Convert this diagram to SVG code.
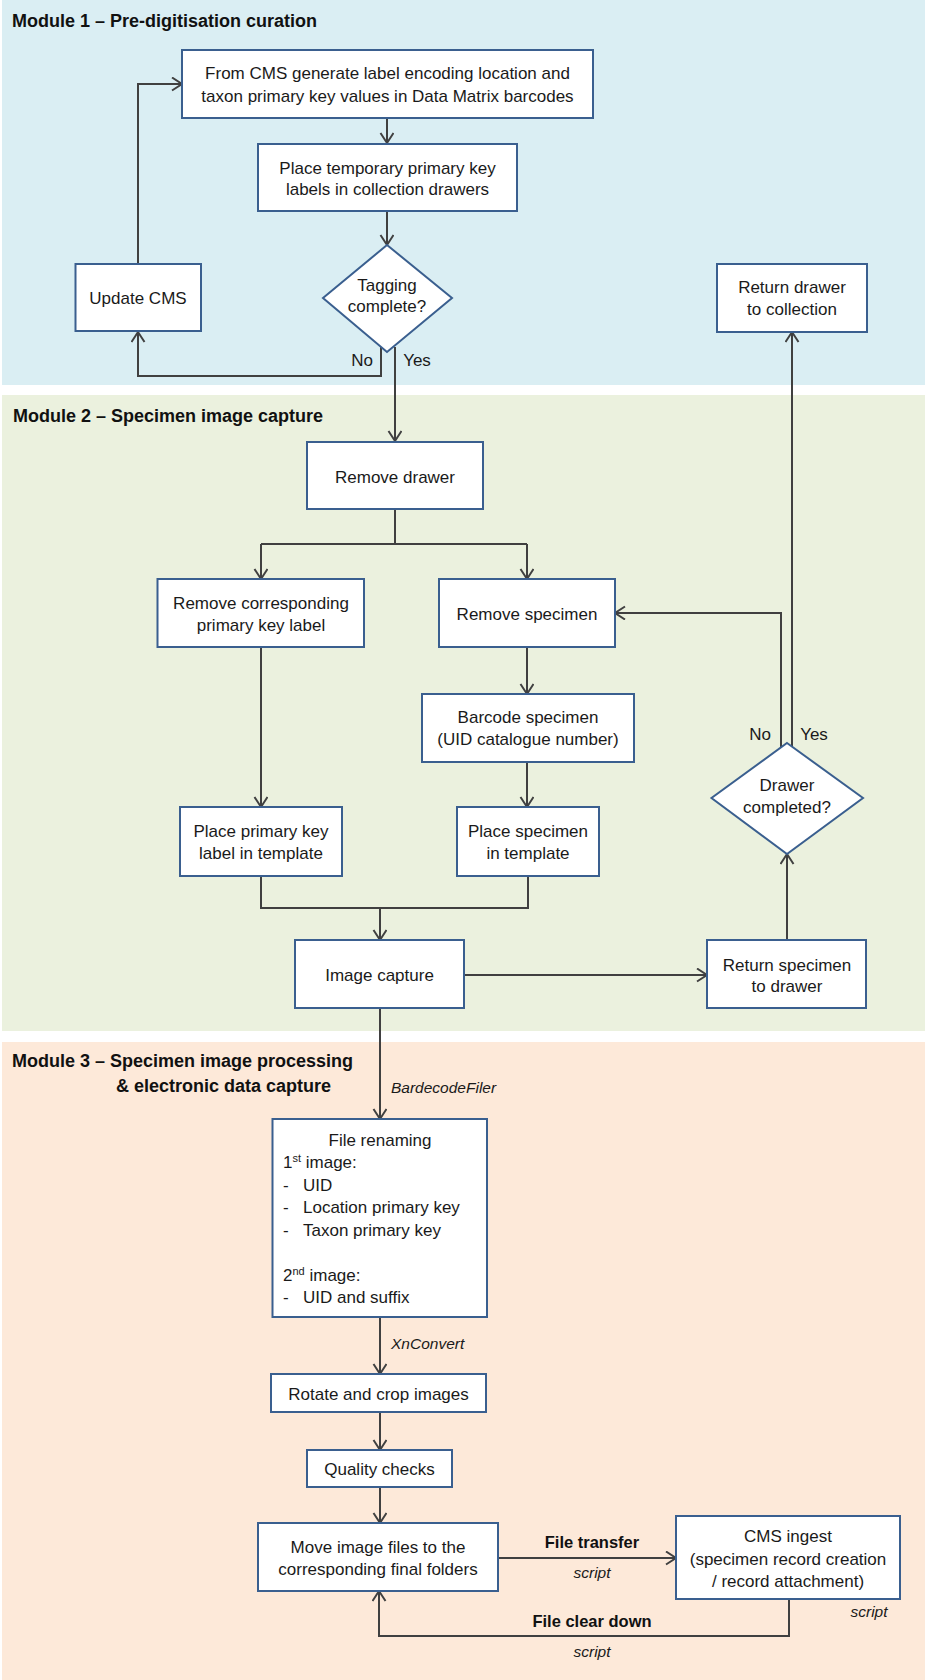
<svg xmlns="http://www.w3.org/2000/svg" width="925" height="1680" viewBox="0 0 925 1680">
<style>
.t{font-family:"Liberation Sans",Arial,sans-serif;font-size:17px;fill:#1a1a1a}
.m{text-anchor:middle}
.h{font-family:"Liberation Sans",Arial,sans-serif;font-size:18px;font-weight:bold;fill:#111}
.b{font-family:"Liberation Sans",Arial,sans-serif;font-size:16.5px;font-weight:bold;fill:#111;text-anchor:middle}
.i{font-family:"Liberation Sans",Arial,sans-serif;font-size:15.5px;font-style:italic;fill:#1a1a1a}
.n{fill:#fff;stroke:#3A5F8F;stroke-width:2}
.c path{fill:none;stroke:#404040;stroke-width:2}
</style>
<defs>
<marker id="a" markerUnits="userSpaceOnUse" markerWidth="14" markerHeight="16" refX="11" refY="7" orient="auto">
<path d="M1,0.5 L11,7 L1,13.5" fill="none" stroke="#404040" stroke-width="2"/>
</marker>
</defs>
<rect x="2" y="0" width="923" height="385" fill="#DAEEF3"/>
<rect x="2" y="395" width="923" height="636" fill="#EBF1DE"/>
<rect x="2" y="1042" width="923" height="638" fill="#FDE9D9"/>
<text class="h" x="12" y="27">Module 1 – Pre-digitisation curation</text>
<text class="h" x="13" y="422">Module 2 – Specimen image capture</text>
<text class="h" x="12" y="1067">Module 3 – Specimen image processing</text>
<text class="h" x="116" y="1092">&amp; electronic data capture</text>
<g class="c" id="connectors">
<path d="M387,118 V143" marker-end="url(#a)"/>
<path d="M387,211 V245" marker-end="url(#a)"/>
<path d="M381,347 V376 H138 V332" marker-end="url(#a)"/>
<path d="M138,264 V84 H182" marker-end="url(#a)"/>
<path d="M395,347 V441" marker-end="url(#a)"/>
<path d="M395,509 V544"/>
<path d="M261,544 H527"/>
<path d="M261,544 V579" marker-end="url(#a)"/>
<path d="M527,544 V579" marker-end="url(#a)"/>
<path d="M261,647 V807" marker-end="url(#a)"/>
<path d="M527,647 V694" marker-end="url(#a)"/>
<path d="M527,762 V807" marker-end="url(#a)"/>
<path d="M261,876 V908 H528 V876"/>
<path d="M380,908 V940" marker-end="url(#a)"/>
<path d="M464,975 H707" marker-end="url(#a)"/>
<path d="M787,940 V854" marker-end="url(#a)"/>
<path d="M781,747 V613 H615" marker-end="url(#a)"/>
<path d="M792,747 V332" marker-end="url(#a)"/>
<path d="M380,1008 V1119" marker-end="url(#a)"/>
<path d="M380,1317 V1374" marker-end="url(#a)"/>
<path d="M380,1412 V1450" marker-end="url(#a)"/>
<path d="M380,1487 V1523" marker-end="url(#a)"/>
<path d="M498,1558 H676" marker-end="url(#a)"/>
<path d="M789,1599 V1636 H379 V1591" marker-end="url(#a)"/>
</g>
<g id="labels">
<text class="t m" x="362" y="366">No</text>
<text class="t m" x="417" y="366">Yes</text>
<text class="t m" x="760" y="740">No</text>
<text class="t m" x="814" y="740">Yes</text>
<text class="i" x="391" y="1093">BardecodeFiler</text>
<text class="i" x="391" y="1349">XnConvert</text>
<text class="b" x="592" y="1548">File transfer</text>
<text class="i m" x="592" y="1578">script</text>
<text class="i m" x="869" y="1617">script</text>
<text class="b" x="592" y="1627">File clear down</text>
<text class="i m" x="592" y="1657">script</text>
</g>
<g id="n1"><rect class="n" x="182" y="50" width="411" height="68"/>
<text class="t m" x="387.5" y="79">From CMS generate label encoding location and</text>
<text class="t m" x="387.5" y="102">taxon primary key values in Data Matrix barcodes</text></g>
<g id="n2"><rect class="n" x="258" y="144" width="259" height="67"/>
<text class="t m" x="387.5" y="174">Place temporary primary key</text>
<text class="t m" x="387.5" y="195">labels in collection drawers</text></g>
<g id="n3"><polygon class="n" points="387,245 452,298 387,352 323,298"/>
<text class="t m" x="387" y="291">Tagging</text>
<text class="t m" x="387" y="312">complete?</text></g>
<g id="n4"><rect class="n" x="75.5" y="264" width="125.5" height="67"/>
<text class="t m" x="138" y="304">Update CMS</text></g>
<g id="n5"><rect class="n" x="717" y="264" width="150" height="68"/>
<text class="t m" x="792" y="293">Return drawer</text>
<text class="t m" x="792" y="315">to collection</text></g>
<g id="n6"><rect class="n" x="307" y="442" width="176" height="67"/>
<text class="t m" x="395" y="483">Remove drawer</text></g>
<g id="n7"><rect class="n" x="157.5" y="579" width="206.5" height="68"/>
<text class="t m" x="261" y="609">Remove corresponding</text>
<text class="t m" x="261" y="631">primary key label</text></g>
<g id="n8"><rect class="n" x="439" y="579" width="176" height="68"/>
<text class="t m" x="527" y="620">Remove specimen</text></g>
<g id="n9"><rect class="n" x="422" y="694" width="212" height="68"/>
<text class="t m" x="528" y="723">Barcode specimen</text>
<text class="t m" x="528" y="745">(UID catalogue number)</text></g>
<g id="n10"><rect class="n" x="180" y="807" width="162" height="69"/>
<text class="t m" x="261" y="837">Place primary key</text>
<text class="t m" x="261" y="859">label in template</text></g>
<g id="n11"><rect class="n" x="457" y="807" width="142" height="69"/>
<text class="t m" x="528" y="837">Place specimen</text>
<text class="t m" x="528" y="859">in template</text></g>
<g id="n12"><rect class="n" x="295" y="940" width="169" height="68"/>
<text class="t m" x="379.5" y="981">Image capture</text></g>
<g id="n13"><rect class="n" x="707" y="940" width="159" height="68"/>
<text class="t m" x="787" y="971">Return specimen</text>
<text class="t m" x="787" y="992">to drawer</text></g>
<g id="n14"><polygon class="n" points="787,743 863,798 787,854 711.5,798"/>
<text class="t m" x="787" y="791">Drawer</text>
<text class="t m" x="787" y="813">completed?</text></g>
<g id="n15"><rect class="n" x="272.5" y="1119" width="214.5" height="198"/>
<text class="t m" x="380" y="1146">File renaming</text>
<text class="t" x="283" y="1168">1<tspan dy="-6" font-size="11">st</tspan><tspan dy="6"> image:</tspan></text>
<text class="t" x="283" y="1191">-</text><text class="t" x="303" y="1191">UID</text>
<text class="t" x="283" y="1213">-</text><text class="t" x="303" y="1213">Location primary key</text>
<text class="t" x="283" y="1236">-</text><text class="t" x="303" y="1236">Taxon primary key</text>
<text class="t" x="283" y="1281">2<tspan dy="-6" font-size="11">nd</tspan><tspan dy="6"> image:</tspan></text>
<text class="t" x="283" y="1303">-</text><text class="t" x="303" y="1303">UID and suffix</text></g>
<g id="n16"><rect class="n" x="271" y="1374" width="215" height="38"/>
<text class="t m" x="378.5" y="1400">Rotate and crop images</text></g>
<g id="n17"><rect class="n" x="307" y="1450" width="145" height="37"/>
<text class="t m" x="379.5" y="1475">Quality checks</text></g>
<g id="n18"><rect class="n" x="258" y="1523" width="240" height="68"/>
<text class="t m" x="378" y="1553">Move image files to the</text>
<text class="t m" x="378" y="1575">corresponding final folders</text></g>
<g id="n19"><rect class="n" x="676" y="1516" width="224" height="83"/>
<text class="t m" x="788" y="1542">CMS ingest</text>
<text class="t m" x="788" y="1565">(specimen record creation</text>
<text class="t m" x="788" y="1587">/ record attachment)</text></g>
</svg>
